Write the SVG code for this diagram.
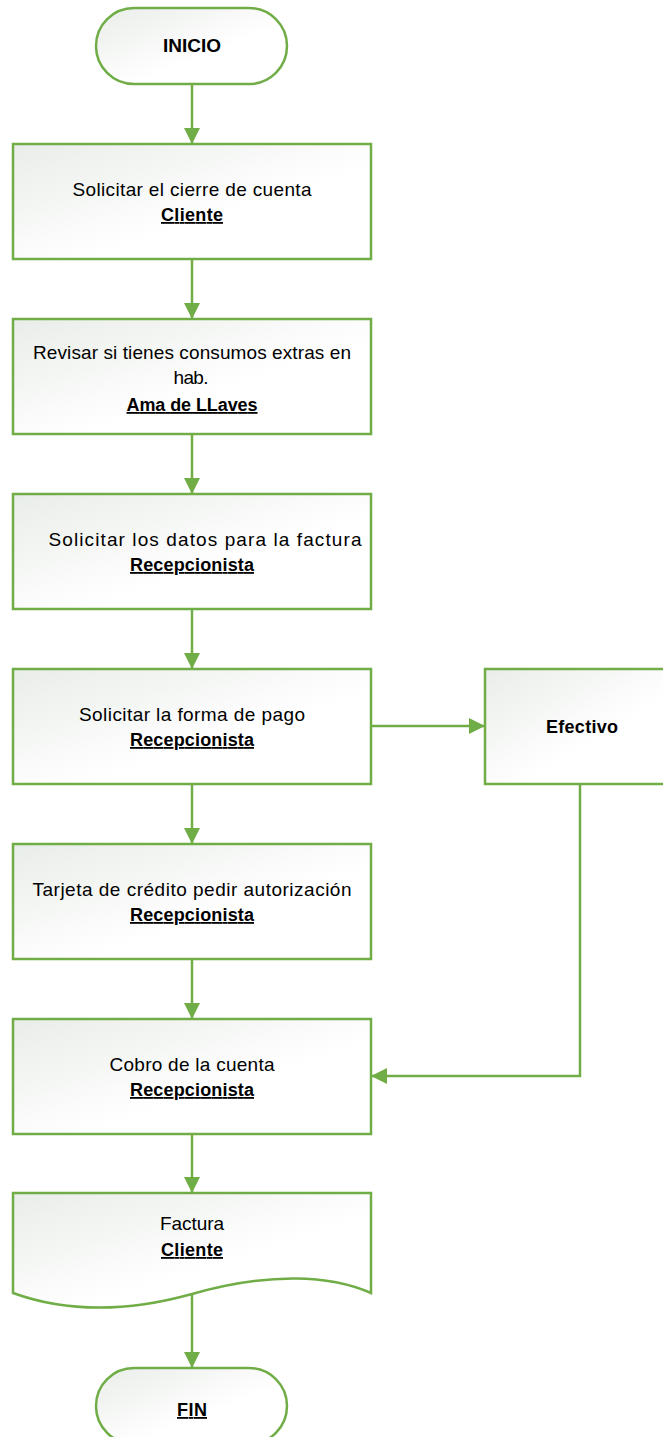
<svg xmlns="http://www.w3.org/2000/svg" width="663" height="1437" viewBox="0 0 663 1437">
  <defs>
    <linearGradient id="fillGrad" x1="0" y1="0" x2="1" y2="1">
      <stop offset="0" stop-color="#e9ede9"/>
      <stop offset="0.6" stop-color="#ffffff"/>
      <stop offset="1" stop-color="#ffffff"/>
    </linearGradient>
    <marker id="arrowHead" viewBox="0 0 16 16" refX="16" refY="8" markerWidth="16" markerHeight="16" orient="auto" markerUnits="userSpaceOnUse">
      <path d="M0,0 L16,8 L0,16 Z" fill="#70ad47"/>
    </marker>
  </defs>
  <style>
    .shape { fill: url(#fillGrad); stroke: #70ad47; stroke-width: 2.5; }
    .conn { fill: none; stroke: #70ad47; stroke-width: 2.5; marker-end: url(#arrowHead); }
    .t { font-family: "Liberation Sans", Arial, sans-serif; font-size: 19px; fill: #000; text-anchor: middle; }
    .b { font-weight: bold; text-decoration: underline; font-size: 18px; }
    .h { font-weight: bold; font-size: 18px; }
  </style>

  <g id="connectors">
    <path class="conn" d="M192,84 V144"/>
    <path class="conn" d="M192,259 V319"/>
    <path class="conn" d="M192,434 V494"/>
    <path class="conn" d="M192,609 V669"/>
    <path class="conn" d="M371,726 H485"/>
    <path class="conn" d="M192,784 V844"/>
    <path class="conn" d="M192,959 V1019"/>
    <path class="conn" d="M580,784 V1076 H371"/>
    <path class="conn" d="M192,1134 V1193"/>
    <path class="conn" d="M192,1294 V1368"/>
  </g>

  <g id="inicio">
    <rect class="shape" x="96" y="8" width="191" height="76" rx="38" ry="38"/>
    <text class="t h" x="192" y="52" textLength="58" lengthAdjust="spacingAndGlyphs">INICIO</text>
  </g>

  <g id="solicitar-cierre">
    <rect class="shape" x="13" y="144" width="358" height="115"/>
    <text class="t" x="192" y="196" textLength="239">Solicitar el cierre de cuenta</text>
    <text class="t b" x="192" y="221" textLength="62">Cliente</text>
  </g>

  <g id="revisar-consumos">
    <rect class="shape" x="13" y="319" width="358" height="115"/>
    <text class="t" x="192" y="359" textLength="318">Revisar si tienes consumos extras en</text>
    <text class="t" x="191" y="384" textLength="35">hab.</text>
    <text class="t b" x="192" y="411" textLength="131">Ama de LLaves</text>
  </g>

  <g id="solicitar-datos">
    <rect class="shape" x="13" y="494" width="358" height="115"/>
    <text class="t" x="205" y="546" textLength="313">Solicitar los datos para la factura</text>
    <text class="t b" x="192" y="571" textLength="124">Recepcionista</text>
  </g>

  <g id="forma-pago">
    <rect class="shape" x="13" y="669" width="358" height="115"/>
    <text class="t" x="192" y="721" textLength="226">Solicitar la forma de pago</text>
    <text class="t b" x="192" y="746" textLength="124">Recepcionista</text>
  </g>

  <g id="efectivo">
    <rect class="shape" x="485" y="669" width="190" height="115"/>
    <text class="t h" x="582" y="733" textLength="72">Efectivo</text>
  </g>

  <g id="tarjeta-credito">
    <rect class="shape" x="13" y="844" width="358" height="115"/>
    <text class="t" x="192" y="896" textLength="319">Tarjeta de crédito pedir autorización</text>
    <text class="t b" x="192" y="921" textLength="124">Recepcionista</text>
  </g>

  <g id="cobro-cuenta">
    <rect class="shape" x="13" y="1019" width="358" height="115"/>
    <text class="t" x="192" y="1071" textLength="165">Cobro de la cuenta</text>
    <text class="t b" x="192" y="1096" textLength="124">Recepcionista</text>
  </g>

  <g id="factura">
    <path class="shape" d="M13,1193 H371 V1293 C330,1275 270,1272 192,1294 C120,1314 60,1310 13,1293 Z"/>
    <text class="t" x="192" y="1230" textLength="64">Factura</text>
    <text class="t b" x="192" y="1256" textLength="62">Cliente</text>
  </g>

  <g id="fin">
    <rect class="shape" x="96" y="1368" width="191" height="76" rx="38" ry="38"/>
    <text class="t b" x="192" y="1416" textLength="30">FIN</text>
  </g>
</svg>
